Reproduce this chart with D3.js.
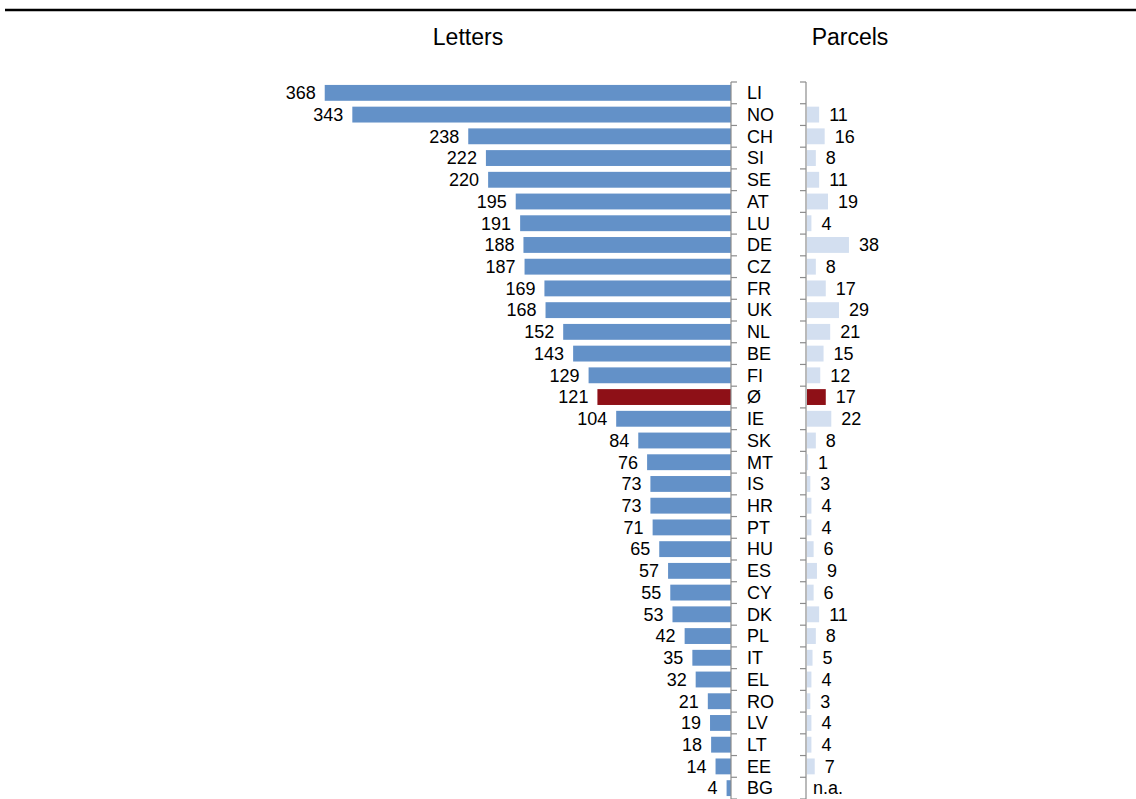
<!DOCTYPE html>
<html>
<head>
<meta charset="utf-8">
<script src="https://cdn.jsdelivr.net/npm/d3@7/dist/d3.min.js"></script>
<style>
  html, body { margin: 0; padding: 0; background: #fff; }
  svg { display: block; font-family: "Liberation Sans", Arial, sans-serif; }
</style>
</head>
<body>
<svg id="chart" width="1136" height="799"></svg>
<script>
// Country codes, top to bottom (Ø = average)
const countries = ["LI","NO","CH","SI","SE","AT","LU","DE","CZ","FR","UK","NL","BE","FI","Ø","IE","SK","MT","IS","HR","PT","HU","ES","CY","DK","PL","IT","EL","RO","LV","LT","EE","BG"];
// Letters per inhabitant
const letters = [368,343,238,222,220,195,191,188,187,169,168,152,143,129,121,104,84,76,73,73,71,65,57,55,53,42,35,32,21,19,18,14,4];
// Parcels per inhabitant (null = not available)
const parcels = [null,11,16,8,11,19,4,38,8,17,29,21,15,12,17,22,8,1,3,4,4,6,9,6,11,8,5,4,3,4,4,7,null];
const panelTitles = ["Letters","Parcels"];
const averageCode = "Ø";
const naLabel = "n.a.";

const svg = d3.select("#chart");

const colLetters = "#6391c8";
const colParcels = "#d3dff0";
const colAverage = "#8e1017";
const axisColor = "#8c8c8c";

const axisL = 731, axisP = 806;
const pxPerUnit = 1.104;

const y = d3.scaleBand()
  .domain(countries)
  .range([82, 799])
  .paddingInner(0.27)
  .paddingOuter(0.135);
const step = y.step();

const xL = d3.scaleLinear().domain([0, 400]).range([axisL, axisL - 400 * pxPerUnit]);
const xP = d3.scaleLinear().domain([0, 40]).range([axisP + 1, axisP + 1 + 40 * pxPerUnit]);

// top rule
svg.append("line")
  .attr("x1", 5).attr("x2", 1136).attr("y1", 10).attr("y2", 10)
  .attr("stroke", "#000").attr("stroke-width", 2.5);

// panel titles
svg.selectAll("text.title").data(panelTitles).join("text")
  .attr("class", "title")
  .attr("x", (d, i) => i === 0 ? 468 : 850)
  .attr("y", 45)
  .attr("text-anchor", "middle")
  .attr("font-size", 23)
  .attr("fill", "#000")
  .text(d => d);

const rows = countries.map((c, i) => ({ c, l: letters[i], p: parcels[i] }));

// letters bars
svg.append("g").selectAll("rect").data(rows).join("rect")
  .attr("x", d => xL(d.l))
  .attr("y", d => y(d.c))
  .attr("width", d => xL(0) - xL(d.l))
  .attr("height", y.bandwidth())
  .attr("fill", d => d.c === averageCode ? colAverage : colLetters);

// parcels bars
svg.append("g").selectAll("rect").data(rows.filter(d => d.p != null)).join("rect")
  .attr("x", xP(0))
  .attr("y", d => y(d.c))
  .attr("width", d => xP(d.p) - xP(0))
  .attr("height", y.bandwidth())
  .attr("fill", d => d.c === averageCode ? colAverage : colParcels);

// category axes with ticks on band boundaries
const bounds = d3.range(countries.length + 1).map(i => y.range()[0] + i * step);
function drawAxis(x, dir) {
  const g = svg.append("g").attr("stroke", axisColor).attr("stroke-width", 1.2);
  g.append("line").attr("x1", x).attr("x2", x).attr("y1", bounds[0]).attr("y2", 799);
  g.selectAll("line.tick").data(bounds).join("line")
    .attr("class", "tick")
    .attr("x1", x).attr("x2", x + dir * 6)
    .attr("y1", d => d).attr("y2", d => d);
}
drawAxis(axisL, 1);
drawAxis(axisP, -1);

const fs = 18;
const mid = d => y(d.c) + y.bandwidth() / 2;

// letters value labels
svg.append("g").selectAll("text").data(rows).join("text")
  .attr("x", d => xL(d.l) - 9)
  .attr("y", mid)
  .attr("dy", "0.35em")
  .attr("text-anchor", "end")
  .attr("font-size", fs)
  .text(d => d.l);

// country labels
svg.append("g").selectAll("text").data(rows).join("text")
  .attr("x", 747)
  .attr("y", mid)
  .attr("dy", "0.35em")
  .attr("font-size", fs)
  .text(d => d.c);

// parcels value labels
svg.append("g").selectAll("text").data(rows.filter((d, i) => i > 0)).join("text")
  .attr("x", d => d.p == null ? axisP + 7 : xP(d.p) + 10)
  .attr("y", mid)
  .attr("dy", "0.35em")
  .attr("font-size", fs)
  .text(d => d.p == null ? naLabel : d.p);
</script>
</body>
</html>
